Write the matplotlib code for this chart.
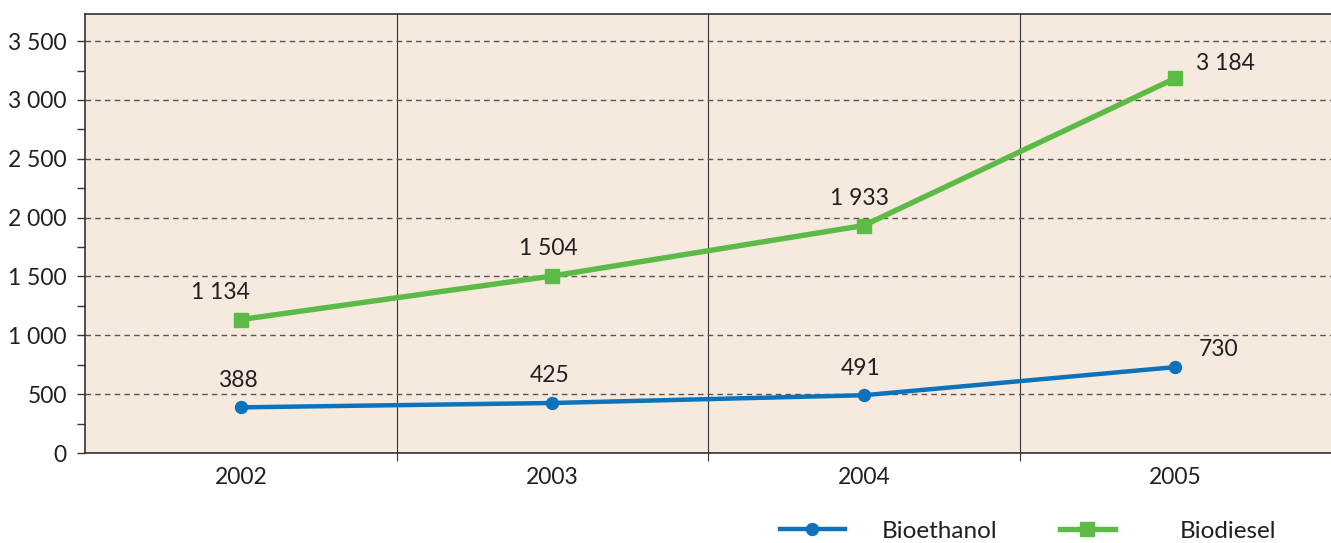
import numpy as np
import matplotlib.pyplot as plt
from matplotlib.ticker import MultipleLocator, FuncFormatter

plt.rcParams['font.family'] = ['Lato', 'DejaVu Sans']

anos = ['2002', '2003', '2004', '2005']
bioetanol = [388, 425, 491, 730]
biodiesel = [1134, 1504, 1933, 3184]

azul = '#0b72bb'
verde = '#5cbb46'
fondo = '#f5eadd'
texto = '#231f20'
fs = 16.5

def miles(v, pos=None):
    return f"{int(v):,}".replace(',', ' ')

x = np.arange(len(anos))

fig = plt.figure(figsize=(13.31, 5.43), dpi=100)
ax = fig.add_axes([0.0639, 0.1657, 0.9361, 0.8085])
ax.set_facecolor(fondo)

l1, = ax.plot(x, bioetanol, color=azul, lw=3.2, marker='o', ms=8.6, label='Bioethanol', zorder=3)
l2, = ax.plot(x, biodiesel, color=verde, lw=3.9, marker='s', ms=9.4, label='Biodiesel', zorder=3)

# etiquetas de valores
for i, v in enumerate(bioetanol):
    if i == 3:
        ax.annotate(miles(v), (x[i], v), xytext=(17, 5), textcoords='offset points',
                    ha='left', va='bottom', fontsize=fs, color=texto)
    else:
        ax.annotate(miles(v), (x[i], v), xytext=(-2, 12), textcoords='offset points',
                    ha='center', va='bottom', fontsize=fs, color=texto)
for i, v in enumerate(biodiesel):
    if i == 3:
        ax.annotate(miles(v), (x[i], v), xytext=(15, 3), textcoords='offset points',
                    ha='left', va='bottom', fontsize=fs, color=texto)
    else:
        ax.annotate(miles(v), (x[i], v), xytext=(-15 if i == 0 else -3, 12),
                    textcoords='offset points', ha='center', va='bottom',
                    fontsize=fs, color=texto)

ax.set_xlim(-0.5, 3.5)
ax.set_ylim(0, 3730)

ax.set_xticks(x)
ax.set_xticklabels(anos)
ax.set_xticks([0.5, 1.5, 2.5], minor=True)
ax.tick_params(axis='x', which='major', length=0, pad=10, labelsize=fs, labelcolor=texto)
ax.tick_params(axis='x', which='minor', length=6, width=0.8, color='#333333')
ax.grid(axis='x', which='minor', color='#333333', lw=0.8, ls='-')

ax.yaxis.set_major_locator(MultipleLocator(500))
ax.yaxis.set_minor_locator(MultipleLocator(250))
ax.yaxis.set_major_formatter(FuncFormatter(miles))
ax.tick_params(axis='y', which='both', length=6, width=1, color='#333333',
               labelsize=fs, labelcolor=texto, pad=7)
ax.grid(axis='y', which='major', color='#555555', lw=1, ls=(0, (4, 3)))
ax.set_axisbelow(True)

for s in ['left', 'bottom', 'top']:
    ax.spines[s].set_color('#333333')
    ax.spines[s].set_linewidth(1.2)
ax.spines['right'].set_visible(False)

# leyenda: una entrada por serie
ley1 = fig.legend([l1], ['Bioethanol'], loc='center left', bbox_to_anchor=(0.586, 0.022),
                  frameon=False, fontsize=17.5, handlelength=2.67, handletextpad=1.52,
                  borderpad=0, borderaxespad=0, labelcolor=texto)
ley2 = fig.legend([l2], ['Biodiesel'], loc='center left', bbox_to_anchor=(0.7964, 0.022),
                  frameon=False, fontsize=17.5, handlelength=2.26, handletextpad=2.67,
                  borderpad=0, borderaxespad=0, labelcolor=texto)

fig.savefig('out.png', dpi=100)
